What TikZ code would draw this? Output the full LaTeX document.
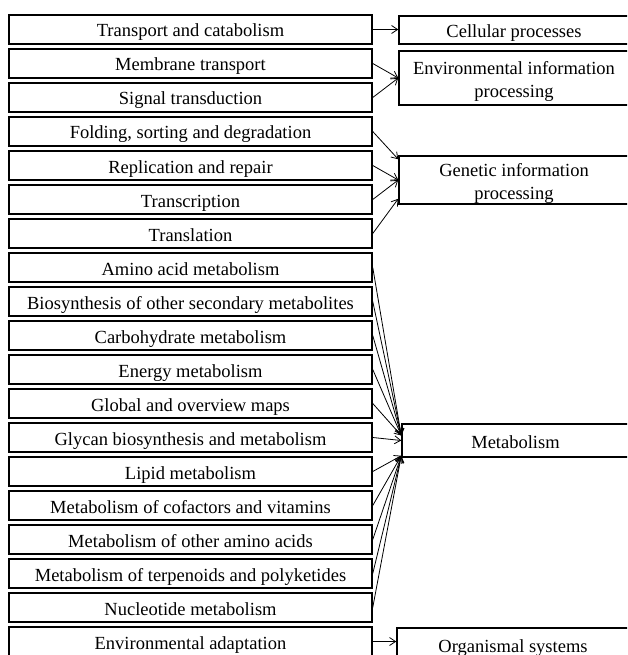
\documentclass[tikz,border=0pt]{standalone}
\usepackage{fontspec}
\setmainfont{Liberation Serif}
\usepackage{tikz}
\usetikzlibrary{arrows.meta}
\tikzstyle{cat}=[draw, line width=1.5pt, inner sep=0pt, minimum height=29pt, minimum width=363pt, text height=16pt, text depth=1pt, font=\fontsize{18.5}{23}\selectfont]
\tikzstyle{grp}=[cat, align=center, minimum width=230pt]
\tikzstyle{grptwo}=[grp, text height=39.6pt, text depth=1pt]
\tikzstyle{arr}=[line width=0.8pt, -{Straight Barb[length=6pt, width=8pt]}]

\begin{document}
\begin{tikzpicture}[x=1pt, y=-1pt]
        \useasboundingbox (0, 0) rectangle (627, 655);
        \clip (0, 0) rectangle (627, 655);
        \node[cat] (TC) at (190.5, 29.5) {Transport and catabolism};
        \node[cat] (MT) at (190.5, 63.5) {Membrane transport};
        \node[cat] (ST) at (190.5, 97.5) {Signal transduction};
        \node[cat] (FSD) at (190.5, 131.5) {Folding, sorting and degradation};
        \node[cat] (RR) at (190.5, 165.5) {Replication and repair};
        \node[cat] (TS) at (190.5, 199.5) {Transcription};
        \node[cat] (TL) at (190.5, 233.5) {Translation};
        \node[cat] (AA) at (190.5, 267.5) {Amino acid metabolism};
        \node[cat] (BSM) at (190.5, 301.5) {Biosynthesis of other secondary metabolites};
        \node[cat] (CM) at (190.5, 335.5) {Carbohydrate metabolism};
        \node[cat] (EM) at (190.5, 369.5) {Energy metabolism};
        \node[cat] (GOM) at (190.5, 403.5) {Global and overview maps};
        \node[cat] (GBM) at (190.5, 437.5) {Glycan biosynthesis and metabolism};
        \node[cat] (LM) at (190.5, 471.5) {Lipid metabolism};
        \node[cat] (MCV) at (190.5, 505.5) {Metabolism of cofactors and vitamins};
        \node[cat] (MOA) at (190.5, 539.5) {Metabolism of other amino acids};
        \node[cat] (MTP) at (190.5, 573.5) {Metabolism of terpenoids and polyketides};
        \node[cat] (NM) at (190.5, 607.5) {Nucleotide metabolism};
        \node[cat] (EA) at (190.5, 641.5) {Environmental adaptation};
        \node[grp, minimum height=28pt] (CP) at (514, 30) {Cellular processes};
        \node[grptwo, minimum height=54pt] (EIP) at (514, 78) {Environmental information\\processing};
        \node[grptwo, minimum height=48pt] (GIP) at (514, 180) {Genetic information\\processing};
        \node[grp, minimum height=33pt, minimum width=227pt] (MET) at (515.5, 440.5) {Metabolism};
        \node[grp, minimum height=33pt, minimum width=232pt] (OS) at (513, 644.5) {Organismal systems};
        \draw[arr] (TC.east) -- (TC.east -| CP.west);
        \draw[arr] (MT.east) -- (EIP.west);
        \draw[arr] (ST.east) -- (EIP.west);
        \draw[arr] (FSD.east) -- ([yshift=-4pt]GIP.north west);
        \draw[arr] (RR.east) -- (GIP.west);
        \draw[arr] (TS.east) -- (GIP.west);
        \draw[arr] (TL.east) -- ([yshift=6pt]GIP.south west);
        \draw[arr] (AA.east) -- ([yshift=5pt]MET.west);
        \draw[arr] (BSM.east) -- ([yshift=5pt]MET.west);
        \draw[arr] (CM.east) -- ([yshift=5pt]MET.west);
        \draw[arr] (EM.east) -- ([yshift=5pt]MET.west);
        \draw[arr] (GOM.east) -- ([yshift=5pt]MET.west);
        \draw[arr] (GBM.east) -- (MET.west);
        \draw[arr] (LM.east) -- ([yshift=2pt]MET.south west);
        \draw[arr] (MCV.east) -- ([yshift=2pt]MET.south west);
        \draw[arr] (MOA.east) -- ([yshift=2pt]MET.south west);
        \draw[arr] (MTP.east) -- ([yshift=2pt]MET.south west);
        \draw[arr] (NM.east) -- ([yshift=2pt]MET.south west);
        \draw[arr] (EA.east) -- (EA.east -| OS.west);
    \end{tikzpicture}
\end{document}
